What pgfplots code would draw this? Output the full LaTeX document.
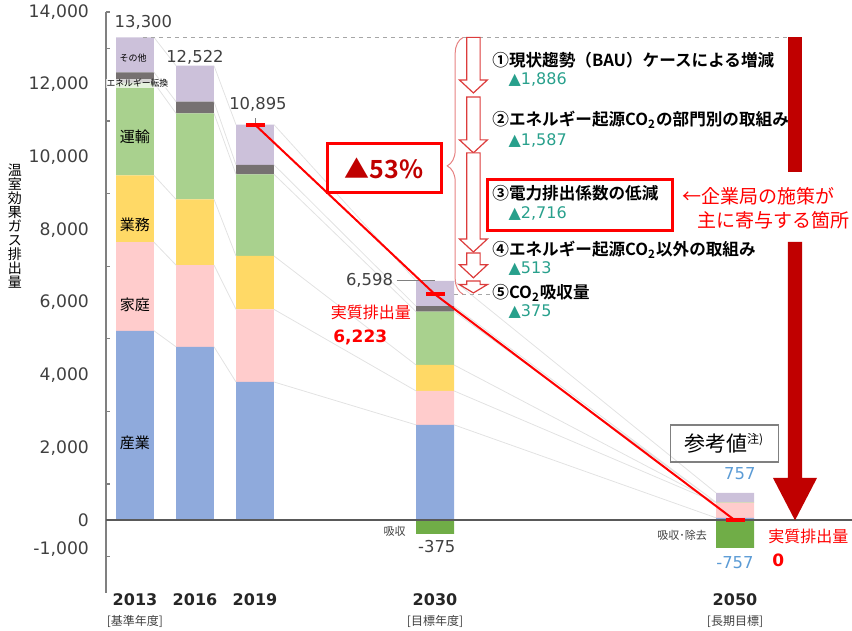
\documentclass[border=0pt]{standalone}
\usepackage{fontspec}
\usepackage{pgfplots}
\pgfplotsset{compat=1.18}
\usetikzlibrary{decorations.pathreplacing}
\setmainfont{DejaVu Sans}
\newfontfamily\jp{Noto Sans CJK JP}[BoldFont={Noto Sans CJK JP Bold}]
\newcommand{\fs}[1]{\fontsize{#1}{#1}\selectfont}
\definecolor{cInd}{HTML}{8FAADC}
\definecolor{cHome}{HTML}{FFCCCC}
\definecolor{cBiz}{HTML}{FFD966}
\definecolor{cTrans}{HTML}{A9D18E}
\definecolor{cEne}{HTML}{767171}
\definecolor{cOth}{HTML}{CCC1DA}
\definecolor{cAbs}{HTML}{70AD47}
\definecolor{txt}{HTML}{404040}
\definecolor{darkred}{HTML}{C00000}
\definecolor{tealv}{RGB}{40,160,140}
\definecolor{arrowred}{RGB}{220,60,60}
\definecolor{bracered}{RGB}{230,130,130}
\definecolor{conn}{HTML}{E2E2E2}
\definecolor{lblue}{HTML}{5B9BD5}
\definecolor{zeroline}{HTML}{595959}
\pgfplotsset{myaxis/.style={scale only axis, width=372pt, height=290.5pt,
  xmin=-0.48333, xmax=11.91667, ymin=-2000, ymax=14000, clip=false}}
\newcommand{\harrow}[3]{%
  \draw[draw=arrowred, line width=0.6pt, fill=white, line join=miter]
  (axis cs:5.528,#1) -- (axis cs:5.752,#1) -- (axis cs:5.752,{#2+#3}) -- (axis cs:5.873,{#2+#3})
  -- (axis cs:5.64,#2) -- (axis cs:5.407,{#2+#3}) -- (axis cs:5.528,{#2+#3}) -- cycle;}
\begin{document}
\begin{tikzpicture}
\begin{axis}[myaxis, ybar stacked, bar width=0.6333,
  axis x line=none, axis y line*=left, axis line style={-, color=gray, line width=0.75pt},
  ytick={-790,0,2000,4000,6000,8000,10000,12000,14000},
  yticklabels={{-1,000},{0},{2,000},{4,000},{6,000},{8,000},{10,000},{12,000},{14,000}},
  major tick length=0pt,
  minor ytick={-1000,1000,3000,5000,7000,9000,11000,13000,14000},
  minor tick length=2pt, tick align=inside, tick style={color=gray, line width=0.6pt},
  yticklabel style={font=\fs{8.6}, text=txt, xshift=-5pt},
  /pgf/number format/assume math mode=true]
\addplot[fill=cInd, draw=none] coordinates {(0,5220) (1,4780) (2,3810) (5,2630) (10,70)};
\addplot[fill=cHome, draw=none] coordinates {(0,2440) (1,2250) (2,2000) (5,935) (10,420)};
\addplot[fill=cBiz, draw=none] coordinates {(0,1840) (1,1810) (2,1470) (5,715) (10,0)};
\addplot[fill=cTrans, draw=none] coordinates {(0,2550) (1,2370) (2,2250) (5,1470) (10,10)};
\addplot[fill=cEne, draw=none] coordinates {(0,290) (1,320) (2,260) (5,150) (10,0)};
\addplot[fill=cOth, draw=none] coordinates {(0,960) (1,992) (2,1105) (5,698) (10,257)};
\end{axis}
\begin{axis}[myaxis, hide axis, unbounded coords=jump]
\coordinate (bbsw) at (axis cs:-2.25,-3046);
\coordinate (bbne) at (axis cs:11.95,14330);
% connectors
\addplot[conn, line width=0.4pt, mark=none] coordinates {
 (0.3167,5220) (0.6833,4780) (0.5,nan) (0.3167,7660) (0.6833,7030) (0.5,nan)
 (0.3167,9500) (0.6833,8840) (0.5,nan) (0.3167,12050) (0.6833,11210) (0.5,nan)
 (0.3167,12340) (0.6833,11530) (0.5,nan) (0.3167,13300) (0.6833,12522)};
\addplot[conn, line width=0.4pt, mark=none] coordinates {
 (1.3167,4780) (1.6833,3810) (1.5,nan) (1.3167,7030) (1.6833,5810) (1.5,nan)
 (1.3167,8840) (1.6833,7280) (1.5,nan) (1.3167,11210) (1.6833,9530) (1.5,nan)
 (1.3167,11530) (1.6833,9790) (1.5,nan) (1.3167,12522) (1.6833,10895)};
\addplot[conn, line width=0.4pt, mark=none] coordinates {
 (2.3167,3810) (4.6833,2630) (3,nan) (2.3167,5810) (4.6833,3565) (3,nan)
 (2.3167,7280) (4.6833,4280) (3,nan) (2.3167,9530) (4.6833,5750) (3,nan)
 (2.3167,9790) (4.6833,5900) (3,nan) (2.3167,10895) (4.6833,6598)};
\addplot[conn, line width=0.4pt, mark=none] coordinates {
 (5.3167,2630) (9.6833,70) (7,nan) (5.3167,3565) (9.6833,490) (7,nan)
 (5.3167,4280) (9.6833,490) (7,nan) (5.3167,5750) (9.6833,500) (7,nan)
 (5.3167,5900) (9.6833,500) (7,nan) (5.3167,6598) (9.6833,757)};
% absorption bars
\addplot[ybar, bar width=0.6333, bar shift=0pt, fill=cAbs, draw=none] coordinates {(5,-375) (10,-757)};
% zero line
\draw[zeroline, line width=1pt] (axis cs:-0.48333,0) -- (axis cs:11.95,0);
% dashed reference lines
\draw[gray!70, line width=0.6pt, dash pattern=on 2pt off 2pt] (axis cs:0.13,13300) -- (axis cs:10.883,13300);
\draw[gray!70, line width=0.6pt, dash pattern=on 2pt off 2pt] (axis cs:5.317,6223) -- (axis cs:5.92,6223);
\draw[gray, line width=0.5pt] (axis cs:4.36,6598) -- (axis cs:5.0,6598);
\draw[gray, line width=0.5pt] (axis cs:2,10895) -- (axis cs:2,11080);
% red trend line
\addplot[red, line width=1pt, mark=-, mark size=4.75pt, mark options={line width=2pt, solid}] coordinates {(2,10895) (5,6223) (10,0)};
% brace and hollow arrows
\draw[bracered, line width=0.5pt, decorate, decoration={brace, amplitude=8pt}] (axis cs:5.47,6223) -- (axis cs:5.47,13300);
\harrow{13300}{11770}{358}
\harrow{11660}{10120}{358}
\harrow{10120}{7390}{358}
\harrow{7360}{6680}{358}
\harrow{6590}{6263}{230}
% big red arrow
\fill[darkred] (axis cs:10.883,13300) rectangle (axis cs:11.117,9597);
\fill[darkred] (axis cs:10.883,7667) -- (axis cs:11.117,7667) -- (axis cs:11.117,1168) -- (axis cs:11.367,1168)
  -- (axis cs:11,0) -- (axis cs:10.633,1168) -- (axis cs:10.883,1168) -- cycle;
% 53% box
\node[draw=red, line width=1.5pt, fill=white, minimum width=57pt, minimum height=24.5pt, inner sep=0pt,
  text=darkred, font=\jp\bfseries\fs{12.5}] at (axis cs:4.15,9691) {▲53\%};
% box for 3
\draw[red, line width=1.5pt] (axis cs:5.867,9375) rectangle (axis cs:8.95,7970);
% right-side texts
\node[anchor=west, inner sep=0pt, font=\jp\bfseries\fs{8.3}] at (axis cs:5.95,12680) {①現状趨勢（BAU）ケースによる増減};
\node[anchor=west, inner sep=0pt, font=\fs{8}, text=tealv] at (axis cs:6.22,12129) {▲1,886};
\node[anchor=west, inner sep=0pt, font=\jp\bfseries\fs{8.3}] at (axis cs:5.95,11027) {②エネルギー起源CO\textsubscript{2}の部門別の取組み};
\node[anchor=west, inner sep=0pt, font=\fs{8}, text=tealv] at (axis cs:6.22,10449) {▲1,587};
\node[anchor=west, inner sep=0pt, font=\jp\bfseries\fs{8.3}] at (axis cs:5.95,9016) {③電力排出係数の低減};
\node[anchor=west, inner sep=0pt, font=\fs{8}, text=tealv] at (axis cs:6.22,8438) {▲2,716};
\node[anchor=west, inner sep=0pt, font=\jp\bfseries\fs{8.3}] at (axis cs:5.95,7447) {④エネルギー起源CO\textsubscript{2}以外の取組み};
\node[anchor=west, inner sep=0pt, font=\fs{8}, text=tealv] at (axis cs:6.22,6924) {▲513};
\node[anchor=west, inner sep=0pt, font=\jp\bfseries\fs{8.3}] at (axis cs:5.95,6263) {⑤CO\textsubscript{2}吸収量};
\node[anchor=west, inner sep=0pt, font=\fs{8}, text=tealv] at (axis cs:6.22,5739) {▲375};
\node[anchor=west, inner sep=0pt, font=\jp\fs{9.5}, text=red] at (axis cs:9.12,8934) {←企業局の施策が};
\node[anchor=west, inner sep=0pt, font=\jp\fs{9.5}, text=red] at (axis cs:9.37,8273) {主に寄与する箇所};
% value labels
\node[text=txt, font=\fs{8.2}] at (axis cs:0.14,13726) {13,300};
\node[text=txt, font=\fs{8.2}] at (axis cs:1.0,12762) {12,522};
\node[text=txt, font=\fs{8.2}] at (axis cs:2.05,11468) {10,895};
\node[text=txt, font=\fs{8.2}, anchor=east, inner sep=1pt] at (axis cs:4.34,6598) {6,598};
\node[text=red, font=\jp\fs{8}] at (axis cs:3.93,5739) {実質排出量};
\node[text=red, font=\bfseries\fs{8.5}, anchor=west, inner sep=0pt] at (axis cs:3.3,5040) {6,223};
\node[text=txt, font=\jp\fs{5.5}, anchor=east, inner sep=1pt] at (axis cs:4.55,-292) {吸収};
\node[text=txt, font=\fs{8.2}] at (axis cs:5.03,-733) {-375};
\node[text=txt, font=\jp\fs{5.5}, anchor=east, inner sep=1pt] at (axis cs:9.57,-402) {吸収･除去};
\node[text=lblue, font=\fs{8.2}] at (axis cs:10.08,1278) {757};
\node[text=lblue, font=\fs{8.2}] at (axis cs:10.0,-1175) {-757};
\node[draw=gray, line width=0.6pt, minimum width=54pt, minimum height=18.5pt, inner sep=0pt, font=\jp\fs{10.5}]
  at (axis cs:9.82,2118) {参考値\textsuperscript{\fs{6}注)}};
\node[text=red, font=\jp\fs{8}, anchor=west, inner sep=0pt] at (axis cs:10.55,-430) {実質排出量};
\node[text=red, font=\bfseries\fs{8.5}] at (axis cs:10.72,-1091) {0};
% in-bar category labels
\node[font=\jp\fs{4.5}, text=black] at (axis cs:-0.03,12735) {その他};
\node[font=\jp\fs{4.4}, text=black, fill=white, fill opacity=0.7, text opacity=1, inner sep=0.3pt] at (axis cs:0.04,12030) {エネルギー転換};
\node[font=\jp\fs{7.5}, text=black] at (axis cs:0,10562) {運輸};
\node[font=\jp\fs{7.5}, text=black] at (axis cs:0,8135) {業務};
\node[font=\jp\fs{7.5}, text=black] at (axis cs:0,5932) {家庭};
\node[font=\jp\fs{7.5}, text=black] at (axis cs:0,2132) {産業};
% x labels
\node[font=\bfseries\fs{8}, text=black!85] at (axis cs:0,-2192) {2013};
\node[font=\bfseries\fs{8}, text=black!85] at (axis cs:1,-2192) {2016};
\node[font=\bfseries\fs{8}, text=black!85] at (axis cs:2,-2192) {2019};
\node[font=\bfseries\fs{8}, text=black!85] at (axis cs:5,-2192) {2030};
\node[font=\bfseries\fs{8}, text=black!85] at (axis cs:10,-2192) {2050};
\node[font=\jp\fs{6}, text=txt] at (axis cs:0,-2777) {[基準年度]};
\node[font=\jp\fs{6}, text=txt] at (axis cs:5,-2777) {[目標年度]};
\node[font=\jp\fs{6}, text=txt] at (axis cs:10,-2777) {[長期目標]};
% y label
\node[font=\jp\fs{7}, align=center, text=black] at (axis cs:-2.0,8094)
  {\fontsize{7}{7.6}\selectfont 温\\室\\効\\果\\ガ\\ス\\排\\出\\量};
\end{axis}
\pgfresetboundingbox
\useasboundingbox (bbsw) rectangle (bbne);
\end{tikzpicture}
\end{document}
